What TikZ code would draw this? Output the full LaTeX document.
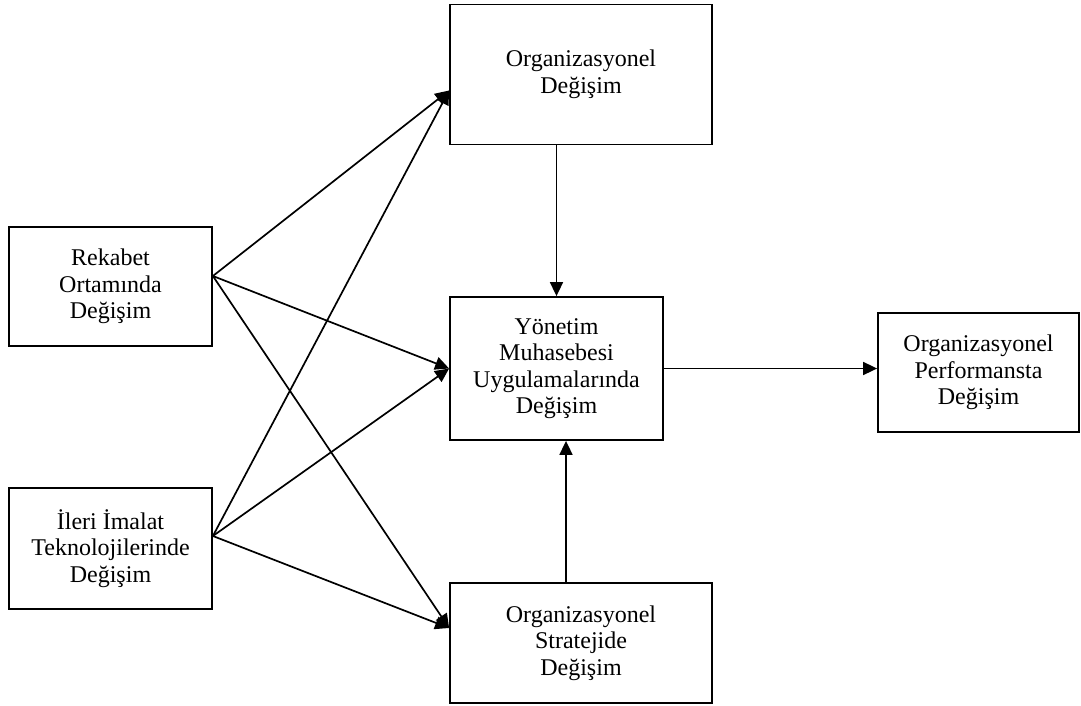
\documentclass[tikz,border=0pt]{standalone}
\usepackage{fontspec}
\setmainfont{Liberation Serif}
\usetikzlibrary{arrows.meta}
\begin{document}
\begin{tikzpicture}[x=1pt,y=-1pt,
  box/.style={draw, line width=1.8pt, inner sep=0pt, align=center,
    font=\fontsize{24}{26.5}\selectfont},
  arr/.style={line width=1.7pt, -{Triangle[length=14pt,width=13pt]}}]
\useasboundingbox[fill=white] (0,0) rectangle (1081,706);
\node[box, minimum width=262pt, minimum height=140pt] (org) at (581,74.5) {Organizasyonel\\Değişim};
\node[box, minimum width=203pt, minimum height=119pt] (rek) at (110.5,286.5) {Rekabet\\Ortamında\\Değişim};
\node[box, minimum width=203pt, minimum height=121pt] (ile) at (110.5,548.5) {İleri İmalat\\Teknolojilerinde\\Değişim};
\node[box, minimum width=213pt, minimum height=143pt] (yon) at (556.5,368.5) {Yönetim\\Muhasebesi\\Uygulamalarında\\Değişim};
\node[box, minimum width=201pt, minimum height=119pt] (perf) at (978.5,372.5) {Organizasyonel\\Performansta\\Değişim};
\node[box, minimum width=262pt, minimum height=120pt] (str) at (581,643) {Organizasyonel\\Stratejide\\Değişim};
% converging points
\coordinate (rekOut) at ([yshift=10.5pt]rek.east);
\coordinate (ileOut) at ([yshift=12.5pt]ile.east);
\coordinate (orgIn) at ([yshift=-16pt]org.west);
\coordinate (strIn) at ([yshift=15pt]str.west);
\draw[arr] (rekOut) -- (orgIn);
\draw[arr] (rekOut) -- (yon.west);
\draw[arr] (rekOut) -- (strIn);
\draw[arr] (ileOut) -- (orgIn);
\draw[arr] (ileOut) -- (yon.west);
\draw[arr] (ileOut) -- (strIn);
\draw[arr] (org.south -| yon.north) -- (yon.north);
\draw[arr] ([xshift=-15pt]str.north) -- ([xshift=-15pt]str.north |- yon.south);
\draw[arr] (yon.east) -- (yon.east -| perf.west);
\end{tikzpicture}
\end{document}
